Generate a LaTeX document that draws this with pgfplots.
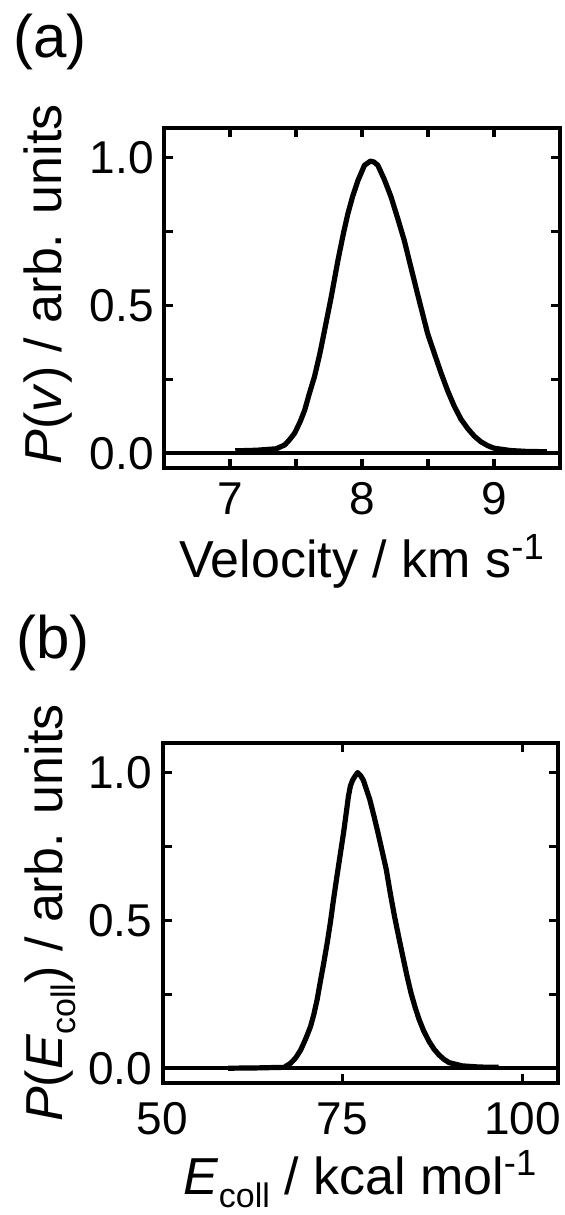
\documentclass[border=0pt]{standalone}
\usepackage{fontspec}
\setmainfont{Liberation Sans}
\usepackage{pgfplots}
\pgfplotsset{compat=1.18}
\newcommand{\coll}{\raisebox{-6.5pt}{\fontsize{17}{20}\selectfont coll}}

\pgfplotsset{myax/.style={
  scale only axis, width=198pt, height=170pt,
  axis line style={line width=2pt},
  every tick/.style={line width=1.7pt, black},
  major tick length=4.5pt, minor tick length=4.5pt,
  tick align=inside,
  /pgf/number format/assume math mode=true,
  ticklabel style={font=\fontsize{23}{27}\selectfont},
  label style={font=\fontsize{26}{31}\selectfont},
  ymin=-0.05, ymax=1.1,
  ytick={0,0.5,1}, yticklabels={0.0,0.5,1.0},
  minor ytick={0.25,0.75},
  yticklabel style={anchor=east, inner sep=0pt, xshift=-5pt},
  xticklabel style={anchor=north, inner sep=0pt},
  clip=false,
}}

\begin{document}
\begin{tikzpicture}
\useasboundingbox (0,0) rectangle (282.5pt,607.5pt);
\begin{axis}[myax, at={(82pt,373.5pt)}, anchor=south west,
  xmin=6.5, xmax=9.5, xtick={7,8,9}, minor xtick={7.5,8.5},
  xticklabel style={yshift=-7pt},
  xlabel={Velocity / km s\textsuperscript{-1}},
  ylabel={\textit{P}(\textit{v}) / arb. units},
  xlabel style={at={(axis description cs:0.5,0)}, anchor=base, yshift=-55pt},
  ylabel style={at={(axis description cs:-0.2576,0.54)}, anchor=base}]
\addplot[line width=1.8pt] coordinates {(6.5,0) (9.5,0)};
\addplot[line width=2.6pt, line join=round] coordinates {
(7.04,0.008) (7.2,0.01) (7.35,0.015) (7.415,0.028) (7.45,0.045) (7.49,0.068)
(7.53,0.105) (7.566,0.146) (7.60,0.2) (7.64,0.259) (7.68,0.335) (7.717,0.417)
(7.767,0.529) (7.818,0.653) (7.86,0.745) (7.893,0.81) (7.93,0.87) (7.97,0.923)
(8.019,0.974) (8.064,0.988) (8.09,0.985) (8.12,0.974) (8.17,0.925) (8.22,0.867)
(8.27,0.795) (8.32,0.72) (8.37,0.63) (8.42,0.54) (8.46,0.47) (8.497,0.405)
(8.55,0.335) (8.6,0.27) (8.65,0.21) (8.70,0.158) (8.75,0.115) (8.80,0.084)
(8.85,0.058) (8.90,0.039) (8.95,0.026) (9.0,0.017) (9.125,0.009) (9.25,0.006)
(9.40,0.005)};
\end{axis}
\begin{axis}[myax, at={(81.25pt,66pt)}, anchor=south west,
  xmin=50, xmax=105, xtick={50,75,100},
  xticklabel style={yshift=-9.5pt},
  xlabel={\textit{E}\coll{} / kcal mol\textsuperscript{-1}},
  ylabel={\textit{P}(\textit{E}\coll) / arb. units},
  xlabel style={at={(axis description cs:0.5,0)}, anchor=base, yshift=-55.5pt},
  ylabel style={at={(axis description cs:-0.2525,0.5)}, anchor=base}]
\addplot[line width=1.8pt] coordinates {(50,0) (105,0)};
\addplot[line width=2.6pt, line join=round] coordinates {
(59.1,0.0) (63,0.001) (66.9,0.003) (67.8,0.017) (68.5,0.035) (69.2,0.062)
(69.9,0.1) (70.56,0.141) (71.0,0.18) (71.47,0.231) (71.9,0.29) (72.39,0.355)
(72.85,0.42) (73.3,0.49) (73.75,0.57) (74.22,0.648) (74.7,0.725) (75.14,0.795)
(75.5,0.86) (75.82,0.919) (76.1,0.955) (76.42,0.975) (76.8,0.99) (77.1,1.0)
(77.5,0.99) (77.88,0.975) (78.3,0.945) (78.8,0.908) (79.4,0.85) (79.94,0.795)
(80.5,0.735) (81.09,0.671) (81.65,0.59) (82.23,0.513) (82.8,0.445) (83.38,0.378)
(83.95,0.313) (84.52,0.254) (85.1,0.205) (85.67,0.163) (86.3,0.125) (87.04,0.09)
(87.7,0.065) (88.4,0.045) (89.1,0.03) (89.8,0.019) (91.6,0.008) (94,0.004)
(96.2,0.003) (96.7,0.003)};
\end{axis}
\node[anchor=base west, font=\fontsize{30}{35}\selectfont, inner sep=0pt] at (6.5pt,578.6pt) {(a)};
\node[anchor=base west, font=\fontsize{30}{35}\selectfont, inner sep=0pt] at (8pt,278pt) {(b)};
\end{tikzpicture}
\end{document}
